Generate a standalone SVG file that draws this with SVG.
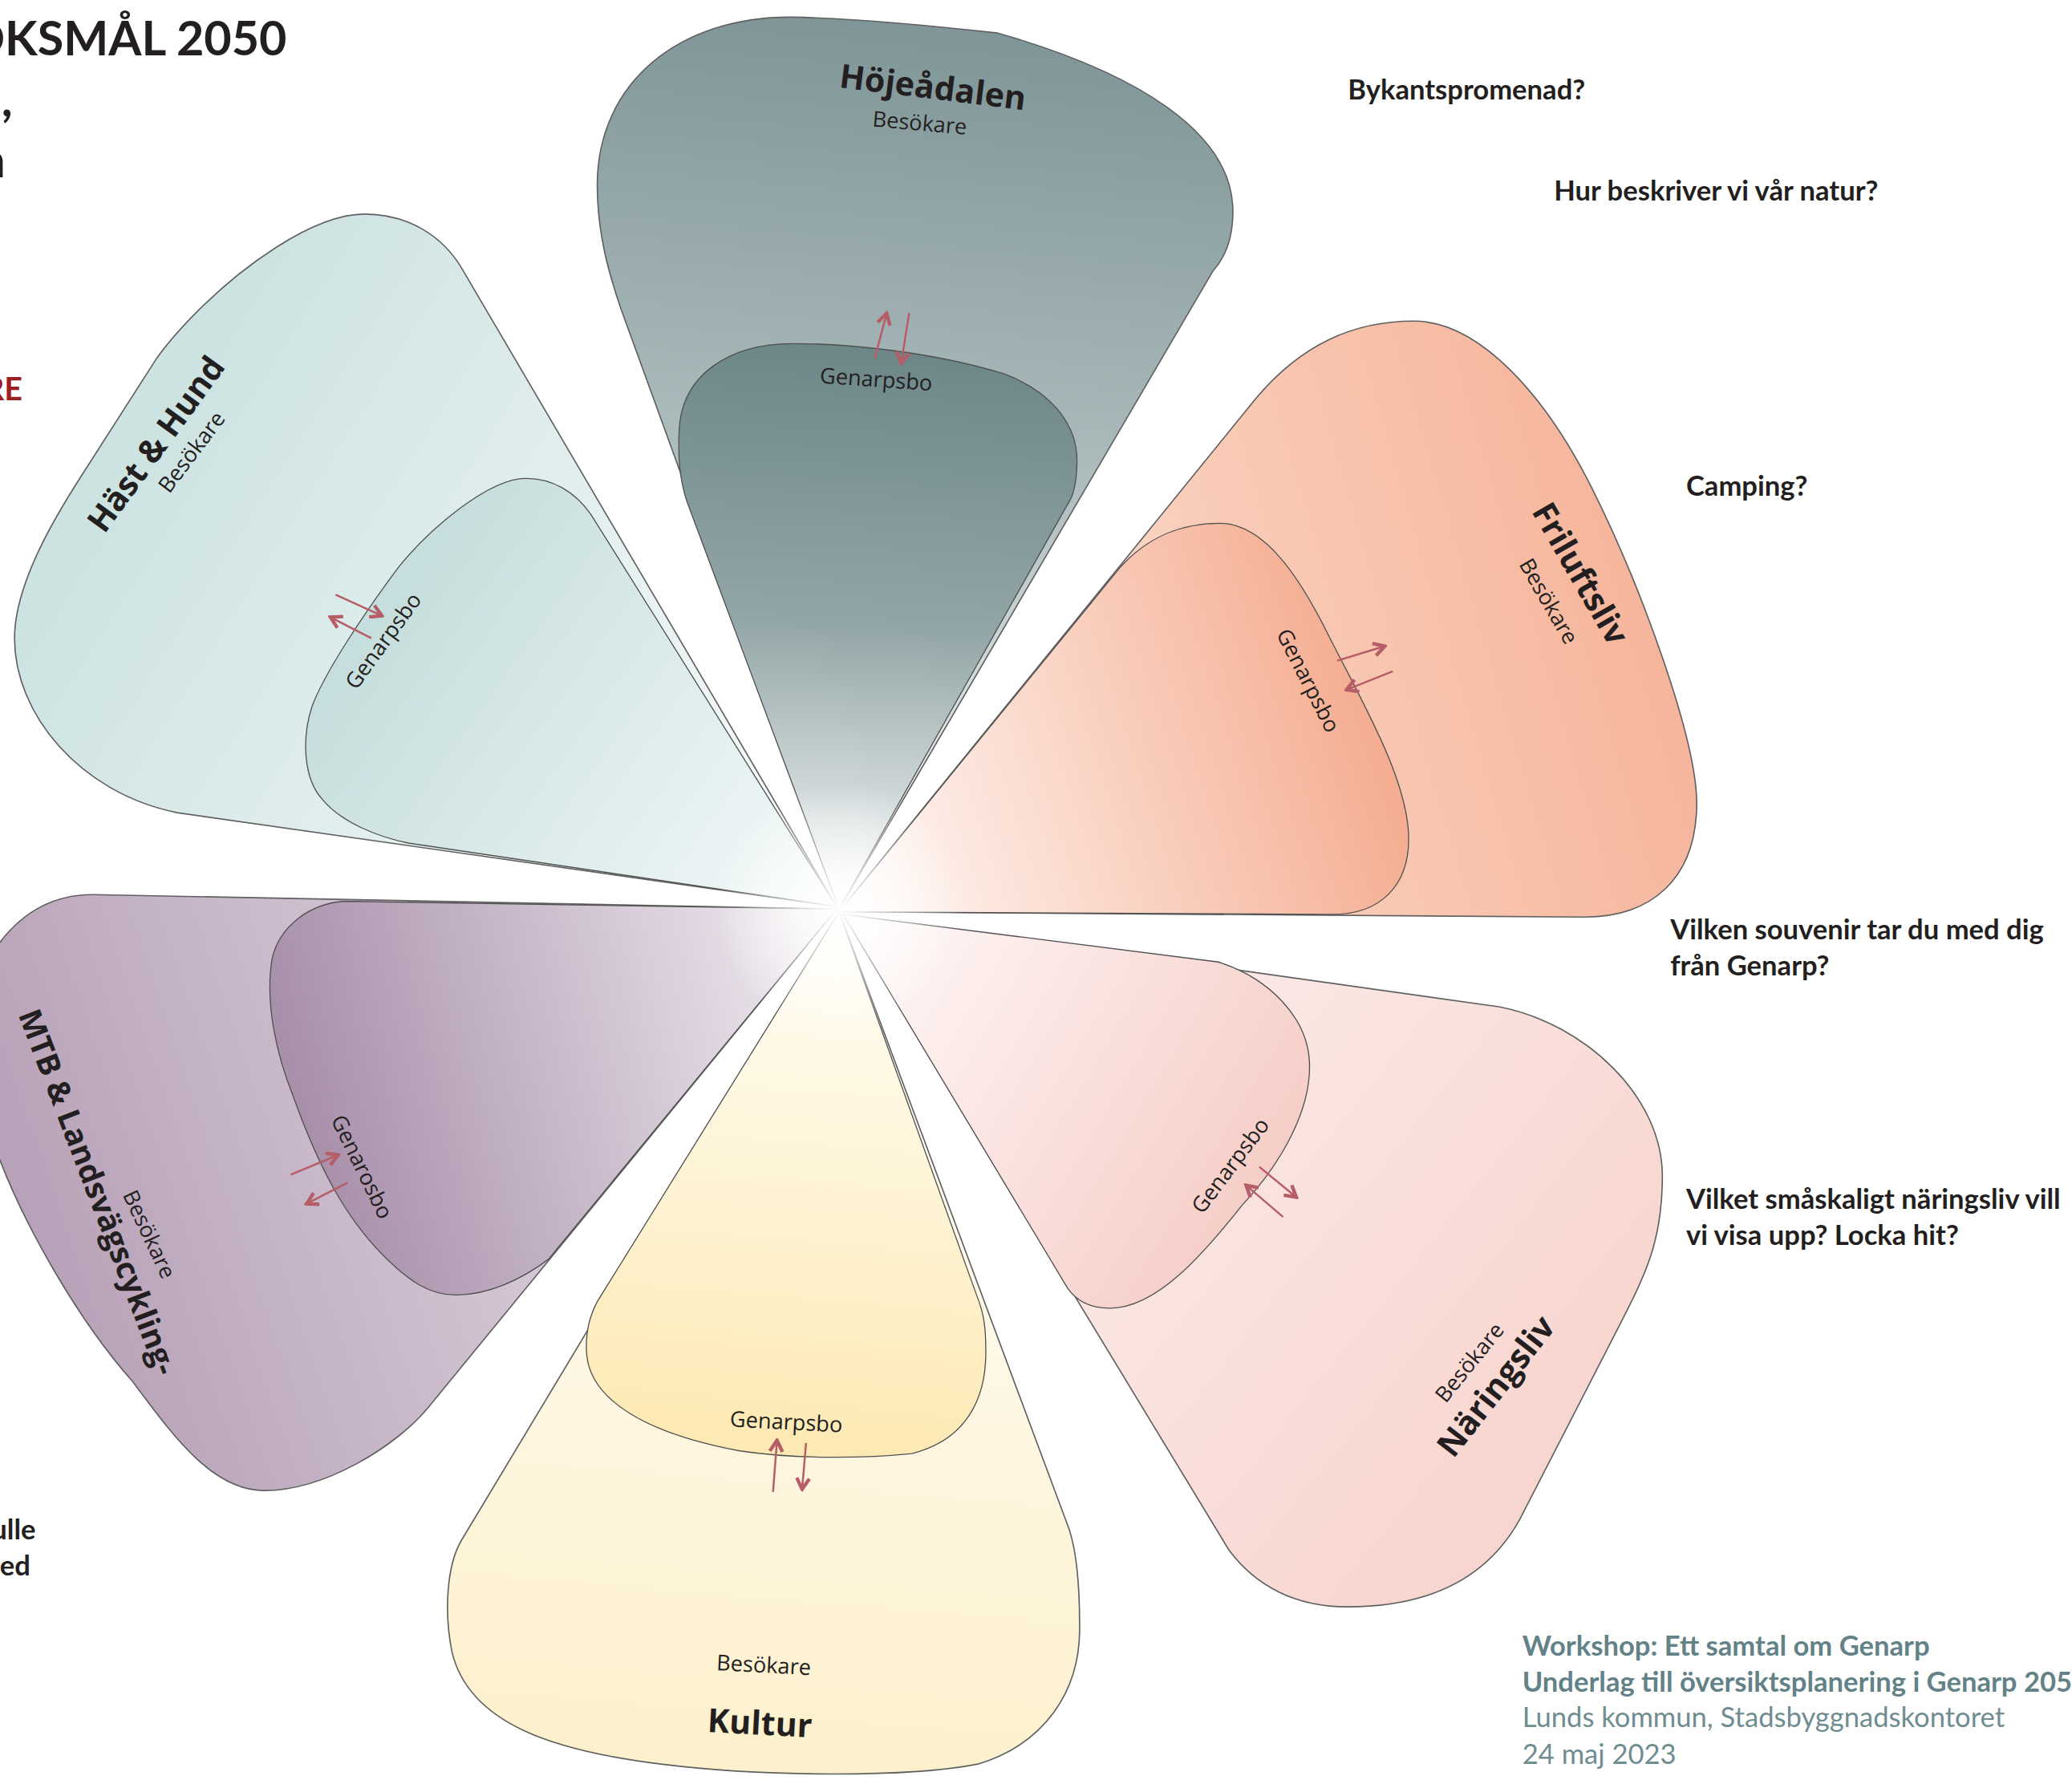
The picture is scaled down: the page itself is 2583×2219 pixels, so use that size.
<svg xmlns="http://www.w3.org/2000/svg" width="2583" height="2219" viewBox="0 0 2583 2219">
<defs>
<style>
.petal{stroke:#606060;stroke-width:1;stroke-linejoin:round}
.inner{stroke:#505050;stroke-width:0.8;stroke-linejoin:round}
.lbl{font-family:"Open Sans","Noto Sans",sans-serif;fill:#231f20;text-anchor:middle}
.big{font-weight:700;font-size:25px}
.sm{font-size:16.5px}
.q{font-family:Lato,"Open Sans",sans-serif;font-weight:700;font-size:21px;fill:#231f20}
.foot{font-family:Lato,"Open Sans",sans-serif;font-size:21px}
.arr{stroke:#b65d67;stroke-width:1.5;fill:none;marker-end:url(#ah)}
</style>
<marker id="ah" viewBox="0 0 10 10" refX="8.5" refY="5" markerWidth="12" markerHeight="12" orient="auto" markerUnits="userSpaceOnUse"><path d="M1.5,1 L8.5,5 L1.5,9" fill="none" stroke="#b65d67" stroke-width="2.2"/></marker>
<linearGradient id="gHo" gradientUnits="userSpaceOnUse" x1="700" y1="20" x2="640" y2="690"><stop offset="0" stop-color="#7f9597"/><stop offset="0.5" stop-color="#aebdbe"/><stop offset="1" stop-color="#ffffff"/></linearGradient>
<linearGradient id="gHi" gradientUnits="userSpaceOnUse" x1="660" y1="260" x2="635" y2="688"><stop offset="0" stop-color="#6c8688"/><stop offset="0.5" stop-color="#93a6a7"/><stop offset="1" stop-color="#fafbfb"/></linearGradient>
<linearGradient id="gFo" gradientUnits="userSpaceOnUse" x1="1280" y1="500" x2="640" y2="688"><stop offset="0" stop-color="#f6b49a"/><stop offset="0.5" stop-color="#f9cdb9"/><stop offset="1" stop-color="#ffffff"/></linearGradient>
<linearGradient id="gFi" gradientUnits="userSpaceOnUse" x1="1066" y1="550" x2="640" y2="688"><stop offset="0" stop-color="#f4a98b"/><stop offset="1" stop-color="#fffaf8"/></linearGradient>
<linearGradient id="gNo" gradientUnits="userSpaceOnUse" x1="1150" y1="1100" x2="640" y2="690"><stop offset="0" stop-color="#f8d6d0"/><stop offset="0.6" stop-color="#fbe8e5"/><stop offset="1" stop-color="#ffffff"/></linearGradient>
<linearGradient id="gNi" gradientUnits="userSpaceOnUse" x1="990" y1="900" x2="640" y2="690"><stop offset="0" stop-color="#f5cac3"/><stop offset="1" stop-color="#fffafa"/></linearGradient>
<linearGradient id="gKo" gradientUnits="userSpaceOnUse" x1="580" y1="1340" x2="635" y2="690"><stop offset="0" stop-color="#fdf0cc"/><stop offset="1" stop-color="#ffffff"/></linearGradient>
<linearGradient id="gKi" gradientUnits="userSpaceOnUse" x1="600" y1="1100" x2="635" y2="690"><stop offset="0" stop-color="#fde9b3"/><stop offset="1" stop-color="#fffef8"/></linearGradient>
<linearGradient id="gMo" gradientUnits="userSpaceOnUse" x1="20" y1="900" x2="635" y2="688"><stop offset="0" stop-color="#b8a2b9"/><stop offset="0.6" stop-color="#d7cbd8"/><stop offset="1" stop-color="#ffffff"/></linearGradient>
<linearGradient id="gMi" gradientUnits="userSpaceOnUse" x1="210" y1="800" x2="635" y2="688"><stop offset="0" stop-color="#a78ea9"/><stop offset="1" stop-color="#f2eef3"/></linearGradient>
<linearGradient id="gSo" gradientUnits="userSpaceOnUse" x1="100" y1="350" x2="635" y2="688"><stop offset="0" stop-color="#cde3e2"/><stop offset="1" stop-color="#fafcfc"/></linearGradient>
<linearGradient id="gSi" gradientUnits="userSpaceOnUse" x1="300" y1="450" x2="635" y2="688"><stop offset="0" stop-color="#c6dedd"/><stop offset="1" stop-color="#f5fafa"/></linearGradient>
<radialGradient id="glow" cx="0.5" cy="0.5" r="0.5"><stop offset="0" stop-color="#ffffff" stop-opacity="1"/><stop offset="0.35" stop-color="#ffffff" stop-opacity="0.7"/><stop offset="1" stop-color="#ffffff" stop-opacity="0"/></radialGradient>
</defs>
<rect width="2583" height="2219" fill="#ffffff"/>
<g transform="scale(1.64732)">
<g id="hojeadalen">
<path class="petal" fill="url(#gHo)" d="M635,688 L470,234 C460,205 452,175 452,140 C452,62 515,12 600,13 C650,14 710,20 755,25 C860,55 933,100 933,160 C933,180 927,195 918,205 Z"/>
<path class="inner" fill="url(#gHi)" d="M635,688 L520,380 C514,362 513,345 514,325 C516,285 550,260 600,260 C640,260 705,266 760,283 C800,298 815,325 815,348 C815,362 813,372 810,378 Z"/>
<text class="lbl big" transform="translate(706,66) rotate(7)" dy="0.35em">Höjeådalen</text>
<text class="lbl sm" transform="translate(696,93) rotate(5)" dy="0.35em">Besökare</text>
<text class="lbl sm" transform="translate(663,287) rotate(4)" dy="0.35em">Genarpsbo</text>
</g>
<g id="friluftsliv">
<path class="petal" fill="url(#gFo)" d="M635,690 L950,302 C985,260 1025,243 1070,243 C1120,243 1170,300 1205,370 C1240,440 1285,560 1284,610 C1283,665 1250,694 1199,694 Z"/>
<path class="inner" fill="url(#gFi)" d="M635,690 L848,429 C870,405 895,396 923,396 C958,396 985,440 1005,480 C1030,530 1066,590 1066,635 C1066,670 1045,692 1008,692 Z"/>
<text class="lbl big" transform="translate(1196,434) rotate(60)" dy="0.35em">Friluftsliv</text>
<text class="lbl sm" transform="translate(1172,455) rotate(60)" dy="0.35em">Besökare</text>
<text class="lbl sm" transform="translate(990,515) rotate(63)" dy="0.35em">Genarpsbo</text>
</g>
<g id="naringsliv">
<path class="petal" fill="url(#gNo)" d="M638,692 L1135,762 C1200,775 1258,830 1258,890 C1258,940 1245,965 1224,1006 L1150,1150 C1125,1195 1080,1216 1020,1216 C980,1216 950,1200 930,1173 Z"/>
<path class="inner" fill="url(#gNi)" d="M638,692 L922,728 C960,740 990,770 991,805 C992,840 970,880 940,912 C910,950 875,990 840,990 C825,990 815,985 808,975 Z"/>
<text class="lbl big" transform="translate(1132,1049) rotate(-52)" dy="0.35em">Näringsliv</text>
<text class="lbl sm" transform="translate(1112,1031) rotate(-51)" dy="0.35em">Besökare</text>
<text class="lbl sm" transform="translate(931,882) rotate(-53)" dy="0.35em">Genarpsbo</text>
</g>
<g id="kultur">
<path class="petal" fill="url(#gKo)" d="M635,690 L349,1166 C338,1185 336,1220 342,1250 C355,1305 420,1325 500,1335 C580,1345 690,1345 740,1335 C790,1320 818,1280 817,1230 C817,1200 815,1175 809,1157 Z"/>
<path class="inner" fill="url(#gKi)" d="M635,690 L452,985 C445,998 443,1012 444,1025 C447,1060 490,1085 560,1098 C600,1104 650,1104 690,1100 C730,1090 747,1060 746,1020 C746,1000 743,990 739,980 Z"/>
<text class="lbl big" transform="translate(575,1304) rotate(3)" dy="0.35em">Kultur</text>
<text class="lbl sm" transform="translate(578,1260) rotate(3)" dy="0.35em">Besökare</text>
<text class="lbl sm" transform="translate(595,1076) rotate(3)" dy="0.35em">Genarpsbo</text>
</g>
<g id="mtb">
<path class="petal" fill="url(#gMo)" d="M633,688 L70,677 C40,677 15,690 -5,720 C-30,760 -20,830 0,878 C20,930 60,1000 100,1045 C130,1085 160,1128 200,1128 C245,1128 300,1095 325,1064 Z"/>
<path class="inner" fill="url(#gMi)" d="M633,688 L260,682 C235,684 212,700 206,725 C200,760 210,800 222,830 C240,880 260,920 290,950 C310,970 325,980 345,980 C370,980 395,968 415,953 Z"/>
<text class="lbl big" style="font-size:23.5px" transform="translate(74,902) rotate(69)" dy="0.35em">MTB &amp; Landsvägscykling-</text>
<text class="lbl sm" transform="translate(113,934) rotate(65)" dy="0.35em">Besökare</text>
<text class="lbl sm" transform="translate(274,883) rotate(64)" dy="0.35em">Genarosbo</text>
</g>
<g id="hast-hund">
<path class="petal" fill="url(#gSo)" d="M633,686 L350,204 C335,178 308,162 276,162 C235,162 180,205 150,235 C135,250 125,262 118,272 L61,361 C45,386 11,440 11,483 C11,540 60,600 134,615 Z"/>
<path class="inner" fill="url(#gSi)" d="M633,686 L447,389 C435,372 418,362 398,362 C370,362 325,400 301,430 C275,465 245,510 236,535 C228,560 230,590 244,605 C258,622 285,633 309,638 Z"/>
<text class="lbl big" transform="translate(118,336) rotate(-54)" dy="0.35em">Häst &amp; Hund</text>
<text class="lbl sm" transform="translate(145,342) rotate(-53)" dy="0.35em">Besökare</text>
<text class="lbl sm" transform="translate(290,485) rotate(-54)" dy="0.35em">Genarpsbo</text>
</g>
<circle id="center-glow" cx="635" cy="688" r="95" fill="url(#glow)"/>
<g id="connectors">
<path class="arr" d="M662,271 L671,237"/>
<path class="arr" d="M688,237 L682,275"/>
<path class="arr" d="M1012,500 L1048,489"/>
<path class="arr" d="M1054,508 L1019,522"/>
<path class="arr" d="M971,921 L943,897"/>
<path class="arr" d="M953,883 L981,906"/>
<path class="arr" d="M585,1129 L588,1090"/>
<path class="arr" d="M610,1092 L607,1127"/>
<path class="arr" d="M220,889 L256,874"/>
<path class="arr" d="M263,895 L232,911"/>
<path class="arr" d="M254,450 L289,466"/>
<path class="arr" d="M281,483 L250,467"/>
</g>
<g id="title">
<text class="q" style="font-size:36px" x="217" y="42" text-anchor="end">ÖKSMÅL 2050</text>
<text class="q" style="font-size:36px" x="1" y="88">,</text>
<text class="q" style="font-size:36px" x="4" y="134" text-anchor="end">n</text>
<text class="q" style="font-size:24px;fill:#9d1f24" x="17" y="303" text-anchor="end">RE</text>
</g>
<g id="questions">
<text class="q" x="1020" y="75">Bykantspromenad?</text>
<text class="q" x="1176" y="152">Hur beskriver vi vår natur?</text>
<text class="q" x="1276" y="375">Camping?</text>
<text class="q" x="1264" y="711">Vilken souvenir tar du med dig</text>
<text class="q" x="1264" y="738">från Genarp?</text>
<text class="q" x="1276" y="915">Vilket småskaligt näringsliv vill</text>
<text class="q" x="1276" y="942">vi visa upp? Locka hit?</text>
<text class="q" x="27" y="1165" text-anchor="end">ulle</text>
<text class="q" x="23" y="1192" text-anchor="end">ed</text>
</g>
<g id="footer">
<text class="foot" x="1152" y="1253" style="font-weight:700;fill:#628287">Workshop: Ett samtal om Genarp</text>
<text class="foot" x="1152" y="1280" style="font-weight:700;fill:#628287">Underlag till översiktsplanering i Genarp 205</text>
<text class="foot" x="1152" y="1307" style="fill:#6f8d91">Lunds kommun, Stadsbyggnadskontoret</text>
<text class="foot" x="1152" y="1335" style="fill:#6f8d91">24 maj 2023</text>
</g>
</g>
</svg>
